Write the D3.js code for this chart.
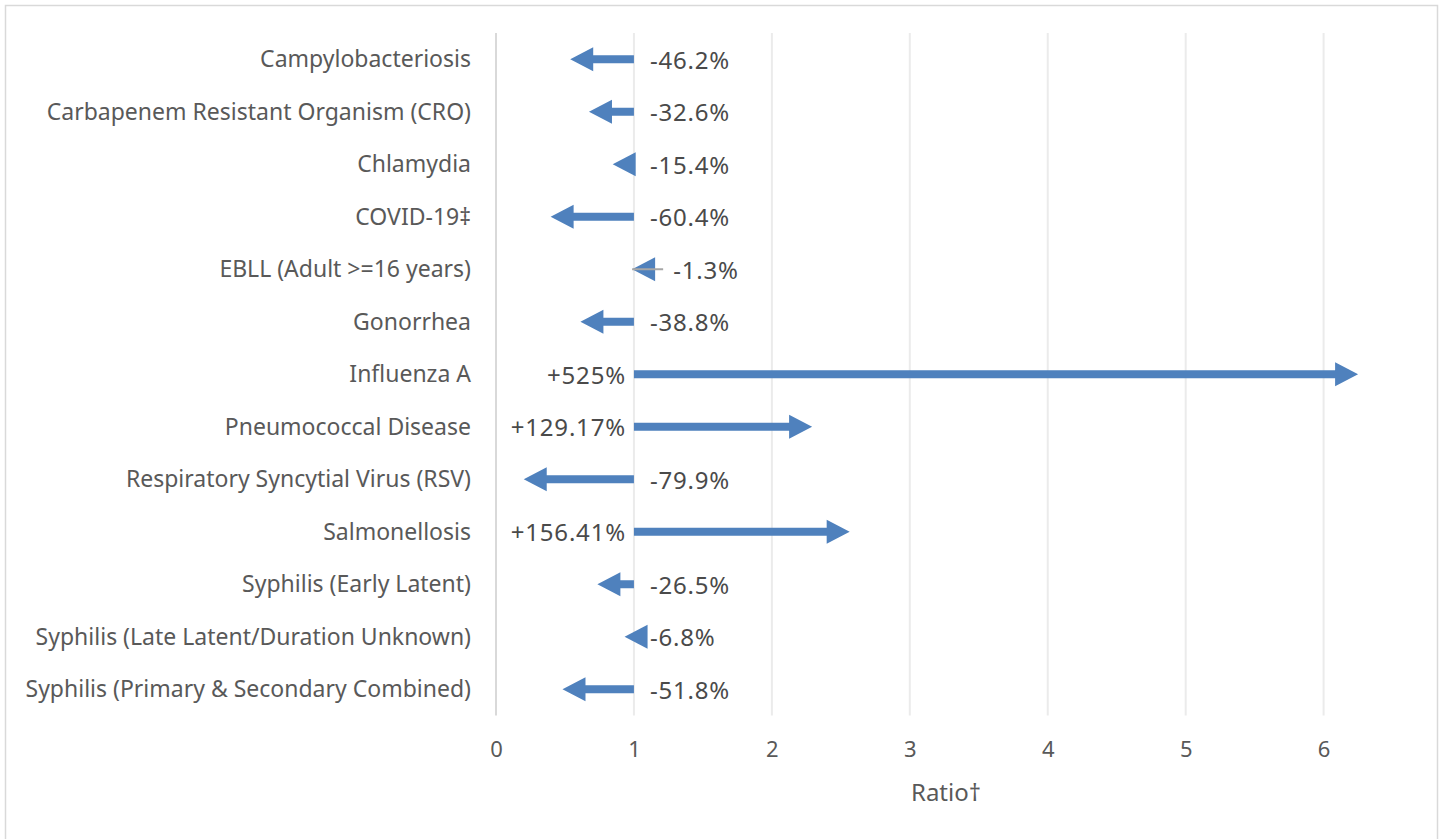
<!DOCTYPE html>
<html>
<head>
<meta charset="utf-8">
<script src="https://cdn.jsdelivr.net/npm/d3@7"></script>
<style>
  body { margin: 0; background: #fff; }
  svg text { font-family: "Noto Sans", sans-serif; fill: #595959; }
</style>
</head>
<body>
<svg id="chart" width="1443" height="839"></svg>
<script>
// data
var categories = ["Campylobacteriosis", "Carbapenem Resistant Organism (CRO)", "Chlamydia", "COVID-19‡",
  "EBLL (Adult >=16 years)", "Gonorrhea", "Influenza A", "Pneumococcal Disease",
  "Respiratory Syncytial Virus (RSV)", "Salmonellosis", "Syphilis (Early Latent)",
  "Syphilis (Late Latent/Duration Unknown)", "Syphilis (Primary & Secondary Combined)"];
var ratios = [0.538, 0.674, 0.846, 0.396, 0.987, 0.612, 6.25, 2.2917, 0.201, 2.5641, 0.735, 0.932, 0.482];
var changeLabels = ["-46.2%", "-32.6%", "-15.4%", "-60.4%", "-1.3%", "-38.8%", "+525%", "+129.17%",
  "-79.9%", "+156.41%", "-26.5%", "-6.8%", "-51.8%"];
var xTicks = [0, 1, 2, 3, 4, 5, 6];
var baseline = 1;

var color = {"arrow": "#4f81bd", "grid": "#ebebeb", "axis": "#d9d9d9", "stub": "#a6a6a6"};

var svg = d3.select("#chart");

// chart border
svg.append("rect")
  .attr("x", 5.5).attr("y", 5.5)
  .attr("width", 1432).attr("height", 845)
  .attr("fill", "none")
  .attr("stroke", "#d9d9d9")
  .attr("stroke-width", 1.5);

var x = d3.scaleLinear().domain([0, 6.3]).range([496, 1365]);
var y = d3.scaleBand().domain(categories).range([33, 715.5]);
var plotTop = y.range()[0], plotBottom = y.range()[1];

// gridlines
svg.append("g").attr("id", "grid").selectAll("line")
  .data(xTicks)
  .enter()
  .append("line")
  .attr("x1", function(d){ return x(d); })
  .attr("x2", function(d){ return x(d); })
  .attr("y1", plotTop).attr("y2", plotBottom)
  .attr("stroke", function(d){ return d == 0 ? color["axis"] : color["grid"]; })
  .attr("stroke-width", 2);

// x axis tick labels
var xAxis = d3.axisBottom(x).tickValues(xTicks).tickSize(0).tickPadding(0).tickFormat(d3.format("d"));
var xg = svg.append("g").attr("transform", "translate(0," + 749 + ")").call(xAxis);
xg.select(".domain").remove();
xg.selectAll("text")
  .attr("dy", "0.35em")
  .style("font-size", "22px")
  .style("font-family", "'Noto Sans', sans-serif")
  .attr("fill", "#595959");

svg.append("text")
  .attr("x", 946).attr("y", 793)
  .attr("dy", "0.35em")
  .attr("text-anchor", "middle")
  .style("font-size", "24px")
  .text("Ratio†");

// category labels
svg.append("g").attr("id", "categories").selectAll("text")
  .data(categories)
  .enter()
  .append("text")
  .attr("x", x(0) - 25)
  .attr("y", function(d){ return y(d) + y.bandwidth() / 2; })
  .attr("dy", "0.35em")
  .attr("text-anchor", "end")
  .style("font-size", "23px")
  .text(function(d){ return d; });

// arrows
var headLen = 23, headHalf = 12, shaftHalf = 4;
var rows = categories.map(function(c, i){
  var start = x(baseline), tip = x(ratios[i]);
  var dir = ratios[i] >= baseline ? 1 : -1;
  return {cat: c, ratio: ratios[i], label: changeLabels[i], start: start, tip: tip, dir: dir,
          cy: y(c) + y.bandwidth() / 2};
});

function arrowPath(d) {
  var base = d.tip - d.dir * headLen, c = d.cy;
  if (Math.abs(d.tip - d.start) >= headLen) {
    return "M" + d.start + "," + (c - shaftHalf) +
      "L" + base + "," + (c - shaftHalf) +
      "L" + base + "," + (c - headHalf) +
      "L" + d.tip + "," + c +
      "L" + base + "," + (c + headHalf) +
      "L" + base + "," + (c + shaftHalf) +
      "L" + d.start + "," + (c + shaftHalf) + "Z";
  }
  // shaft shorter than the head: only the head is drawn
  return "M" + base + "," + (c - headHalf) + "L" + d.tip + "," + c + "L" + base + "," + (c + headHalf) + "Z";
}

var arrows = svg.append("g").attr("id", "arrows");
arrows.selectAll("path")
  .data(rows)
  .enter()
  .append("path")
  .attr("d", arrowPath)
  .attr("fill", color["arrow"]);

// tiny changes get the thin grey stub like in the original
var stubLen = 31;
arrows.selectAll("line")
  .data(rows.filter(function(d){ return Math.abs(d.tip - d.start) < 4; }))
  .enter()
  .append("line")
  .attr("x1", function(d){ return d.tip; })
  .attr("x2", function(d){ return d.tip - d.dir * stubLen; })
  .attr("y1", function(d){ return d.cy; })
  .attr("y2", function(d){ return d.cy; })
  .attr("stroke", color["stub"])
  .attr("stroke-width", 2);

// percent change labels
function labelX(d) {
  if (d.dir > 0) return d.start - 8;
  var ext = d.tip + headLen;
  if (Math.abs(d.tip - d.start) < 4) ext = d.tip + stubLen + 8;
  return Math.max(d.start + 16, ext + 2);
}

svg.append("g").attr("id", "labels").selectAll("text")
  .data(rows)
  .enter()
  .append("text")
  .attr("x", labelX)
  .attr("y", function(d){ return d.cy + 1; })
  .attr("dy", "0.35em")
  .attr("text-anchor", function(d){ return d.dir > 0 ? "end" : "start"; })
  .style("font-size", "24px")
  .style("letter-spacing", "0.8px")
  .style("fill", "#4a4a4a")
  .text(function(d){ return d.label; });
</script>
</body>
</html>
